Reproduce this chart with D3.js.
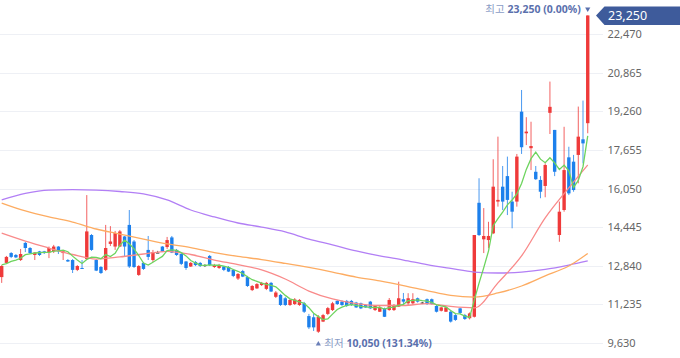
<!DOCTYPE html>
<html><head><meta charset="utf-8">
<script src="https://cdn.jsdelivr.net/npm/d3@7"></script>
<style>
body{margin:0;background:#fff;}
svg{display:block;font-family:'Noto Sans','Noto Sans CJK KR',sans-serif;}
</style>
</head><body><svg id="c" width="680" height="358"></svg>
<script>
// ---- data (daily candles, oldest -> newest) ----
const opens = [12370,12960,13370,13290,13080,13790,13580,13290,13440,13440,13390,13440,13640,13370,13080,13080,12670,12750,13120,14120,13080,12790,12670,13750,13640,13640,14060,14540,13850,12460,12960,13500,13080,13390,13640,13620,14020,13500,13330,13020,12810,13000,12960,12870,13250,12790,12750,12810,12790,12670,12310,12620,12370,11830,11900,12040,11880,12130,11550,11630,11490,11210,11250,11210,11280,10750,10700,10100,10520,10840,11000,11380,11350,11380,11380,11310,11280,11210,11350,11000,10930,11070,11000,11000,11140,11450,11280,11280,11490,11310,11450,11450,11170,10970,10930,10930,10790,11070,10790,10660,10720,15460,13940,13910,14190,15510,16130,16570,15510,15510,19250,18350,17730,16750,16410,16160,19200,18490,14120,15160,17350,17170,17450,18100,18770];
const highs = [12870,13250,13410,13330,13540,13830,13620,13410,13460,13460,13640,13710,13660,13460,13120,13120,12870,13080,15780,14160,13120,12830,14540,14490,14290,14330,14080,15160,13910,12870,13000,14080,13500,13460,13660,14040,14080,13540,13370,13040,13000,13040,13000,12910,13290,12920,12920,12830,12830,12710,12540,12670,12420,12040,12120,12170,12170,12170,11790,11670,11540,11460,11500,11460,11340,10840,10840,10790,10840,11130,11340,11420,11400,11420,11420,11340,11310,11250,11380,11210,11170,11100,11500,11250,12180,11710,11700,11700,11520,11340,11480,11480,11210,11140,11140,11000,10840,11100,10840,10900,14120,16480,15240,14670,17270,18210,16990,17380,15920,17490,20150,19020,18830,16990,16570,17100,20500,18490,15510,18620,17790,17450,19460,19710,23250];
const lows = [12130,12920,13160,13160,13040,13410,13330,13080,13250,13330,13160,13370,13330,13080,13000,12540,12620,12710,13080,13460,12620,12500,12620,13660,13500,13620,13230,12750,12750,12420,12670,13080,13000,13370,13410,13540,13370,13250,12870,12670,12790,12830,12790,12790,12830,12750,12710,12620,12580,12370,12250,12370,11960,11790,11880,12000,11830,11750,11500,11170,11170,11170,11210,11170,10880,10210,10130,10050,10500,10790,10960,11210,11170,11130,11170,11090,11040,11090,11040,10960,10920,10710,10970,10960,11130,11210,11210,11210,11310,11250,11210,11230,10900,10940,10920,10480,10550,10840,10590,10610,10690,14080,13370,13570,14160,15300,15160,14950,14400,15300,17490,17860,16820,16410,15650,15690,18320,16570,13840,15090,15780,15920,16270,17100,18350];
const closes = [12830,13210,13210,13190,13330,13580,13370,13390,13290,13370,13580,13640,13440,13440,13020,12670,12830,12730,14270,13500,12640,12540,13580,13850,14200,14270,13640,12810,12790,12830,12710,13210,13410,13390,13430,13910,13390,13290,12920,12750,12960,12870,12830,12870,12870,12870,12870,12670,12600,12420,12500,12390,12000,12000,12080,12130,12130,11770,11730,11210,11210,11420,11440,11420,10930,10280,10280,10720,10790,11080,11280,11250,11210,11170,11210,11110,11070,11110,11070,11170,11110,10720,11420,11210,11490,11350,11490,11450,11350,11310,11250,11250,10930,11110,11110,10520,10590,10880,10630,10860,14120,14120,14080,14080,16130,15580,15510,15580,15090,17380,17770,18420,17820,16440,15920,17030,19450,16750,15090,16820,15850,15990,18210,17930,23250];
// closes of the 4 sessions before the first visible candle (for the 5-day average)
const prevCloses = [12950,12780,12900,12950];

// moving averages at every 5th session
const maIdx  = [0,5,10,15,20,25,30,35,40,45,50,55,60,65,70,75,80,85,90,95,100,105,110,115,120,124];
const ma20   = [14200,13870,13580,13310,13120,13210,13330,13440,13310,13080,12890,12670,12290,11790,11460,11270,11190,11190,11270,11150,11090,12130,13250,14830,16080,17030];
const ma60   = [15450,15120,14870,14660,14370,14160,13950,13750,13600,13390,13230,13100,12940,12770,12580,12370,12210,12020,11810,11610,11540,11710,12000,12420,12830,13350];
const ma120  = [15580,15850,15990,16010,15990,15930,15830,15580,15160,14870,14620,14450,14250,13950,13710,13460,13250,13080,12890,12730,12580,12540,12580,12690,12870,13040];

const tickValues = [9630,11235,12840,14445,16050,17655,19260,20865,22470];
const highText = ["최고", "23,250 (0.00%)"];
const lowText  = ["최저", "10,050 (131.34%)"];
const lastPrice = 23250;

// ---- chart ----
const svg = d3.select("#c");
const N = closes.length;
const x = d3.scaleBand().domain(d3.range(N)).range([-0.66, 590.1]).padding(0);
const cx = i => x(i) + x.bandwidth() / 2;
const y = d3.scaleLinear().domain([9630, 22470]).range([343, 34.2]);

const UP = "#ef3a3a", DOWN = "#1d80ec", FLAT = "#333";

// gridlines
svg.append("g").selectAll("line").data(tickValues).join("line")
  .attr("x1", 0).attr("x2", 603)
  .attr("y1", d => Math.round(y(d)) + 0.5).attr("y2", d => Math.round(y(d)) + 0.5)
  .attr("stroke", "#eef0f5").attr("stroke-width", 1);

// right axis
const axis = d3.axisRight(y).tickValues(tickValues).tickFormat(d3.format(",")).tickSize(0).tickPadding(0);
const ag = svg.append("g").attr("transform", "translate(607.5,0)").call(axis);
ag.select(".domain").remove();
ag.selectAll("text").attr("fill", "#666").attr("font-size", 11)
  .attr("font-family", "'Noto Sans','Noto Sans CJK KR',sans-serif");

// candles
const data = d3.range(N).map(i => ({i, o: opens[i], h: highs[i], l: lows[i], c: closes[i]}));
const col = d => d.c > d.o ? UP : (d.c < d.o ? DOWN : FLAT);
const cg = svg.append("g");
cg.selectAll("line").data(data).join("line")
  .attr("x1", d => cx(d.i)).attr("x2", d => cx(d.i))
  .attr("y1", d => y(d.h)).attr("y2", d => y(d.l))
  .attr("stroke", col).attr("stroke-width", 1).attr("stroke-opacity", 0.8);
const bw = 3.4;
cg.selectAll("rect").data(data).join("rect")
  .attr("x", d => cx(d.i) - bw / 2).attr("width", bw)
  .attr("y", d => y(Math.max(d.o, d.c)))
  .attr("height", d => Math.max(1, Math.abs(y(d.o) - y(d.c))))
  .attr("fill", col);

// moving averages
const allCloses = prevCloses.concat(closes);
const ma5 = d3.range(N).map(i => [i, d3.mean(allCloses.slice(i, i + 5))]);
const lineGen = d3.line().x(d => cx(d[0])).y(d => y(d[1]));
const smooth = d3.line().x(d => cx(d[0])).y(d => y(d[1])).curve(d3.curveMonotoneX);
const series = [
  {vals: ma120, color: "#b27ff5"},
  {vals: ma60, color: "#fdac62"},
  {vals: ma20, color: "#f98a8a"}
];
series.forEach(s => {
  svg.append("path").datum(maIdx.map((k, j) => [k, s.vals[j]]))
    .attr("d", smooth).attr("fill", "none").attr("stroke", s.color).attr("stroke-width", 1.3);
});
svg.append("path").datum(ma5).attr("d", lineGen)
  .attr("fill", "none").attr("stroke", "#6dd45e").attr("stroke-width", 1.3);

// high annotation
const hiX = cx(N - 1);
const hiY = y(lastPrice);
const ht = svg.append("text").attr("x", hiX - 7).attr("y", 13).attr("text-anchor", "end").attr("font-size", 10.5);
ht.append("tspan").text(highText[0] + " ").attr("fill", "#8a9cc6");
ht.append("tspan").text(highText[1]).attr("fill", "#5a70ad").attr("font-weight", "bold");
svg.append("path")
  .attr("d", `M${hiX - 2.6},7.5 L${hiX + 2.6},7.5 L${hiX},12 Z`).attr("fill", "#5a70ad");

// low annotation
const loIdx = d3.minIndex(lows);
const loX = cx(loIdx);
svg.append("path")
  .attr("d", `M${loX - 2.6},345.5 L${loX + 2.6},345.5 L${loX},341 Z`).attr("fill", "#6a7fb8");
const lt = svg.append("text").attr("x", loX + 6).attr("y", 347).attr("font-size", 10.5);
lt.append("tspan").text(lowText[0] + " ").attr("fill", "#8a9cc6");
lt.append("tspan").text(lowText[1]).attr("fill", "#5a70ad").attr("font-weight", "bold");

// current price tag
svg.append("path")
  .attr("d", `M596,${hiY} L604.5,6.5 L680,6.5 L680,25 L604.5,25 Z`).attr("fill", "#3e5b9b");
svg.append("text").attr("x", 608).attr("y", hiY + 4.3).attr("fill", "#fff").attr("font-size", 12.5)
  .text(d3.format(",")(lastPrice));
</script>
</body></html>
